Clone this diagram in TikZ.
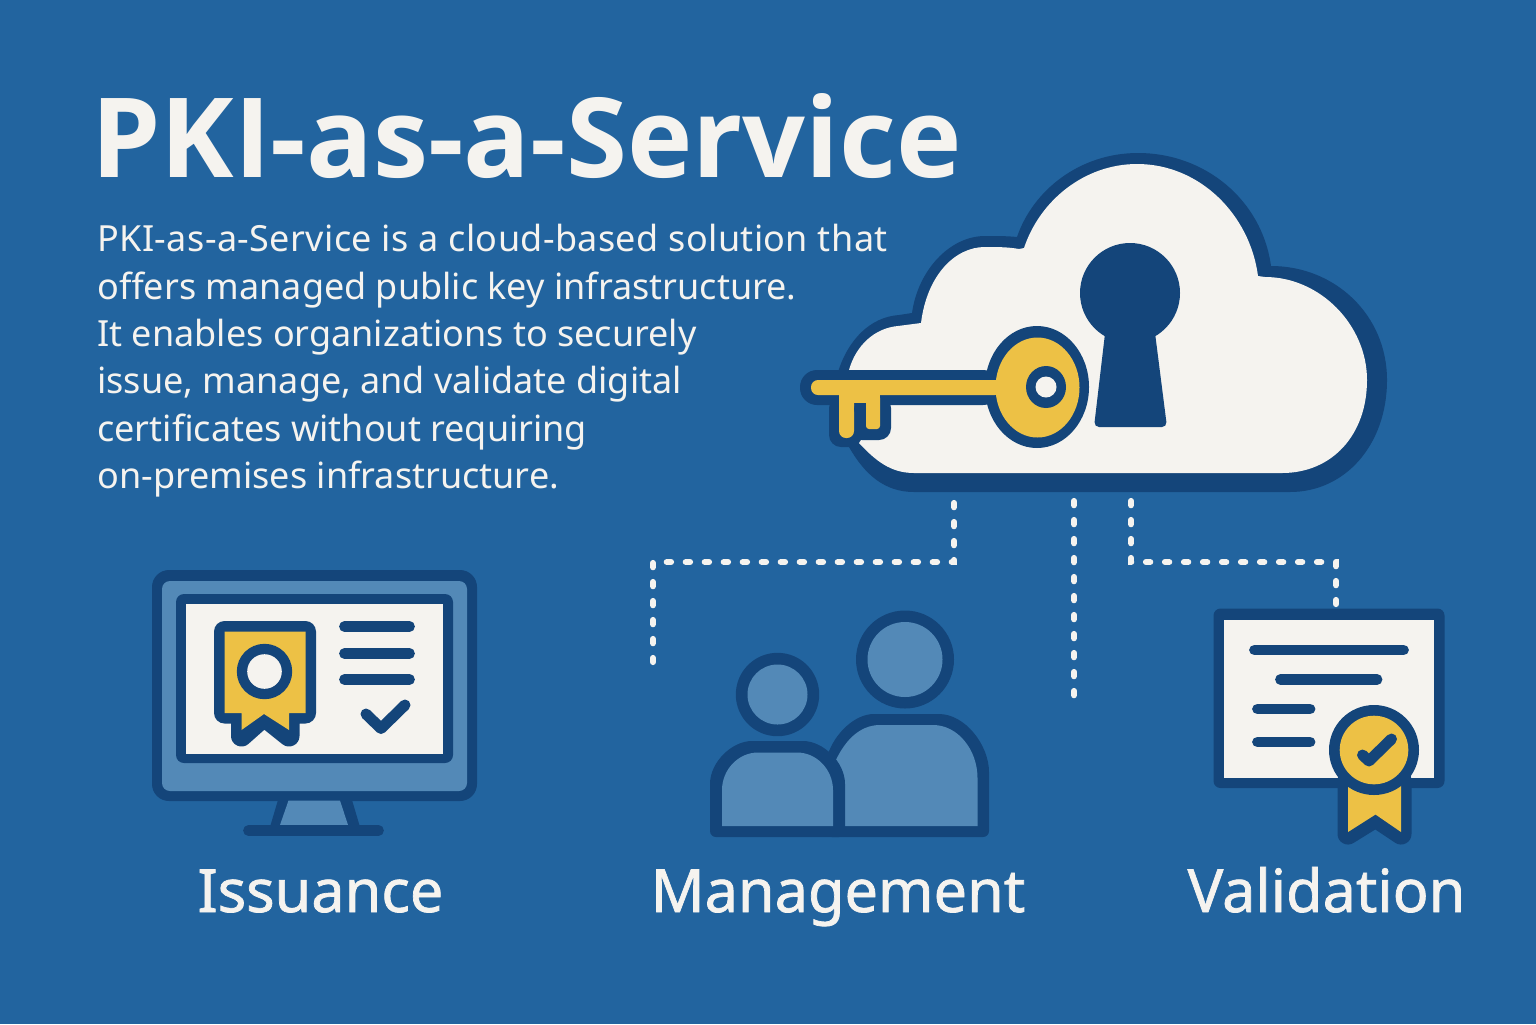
\documentclass[tikz,border=0pt]{standalone}
\usepackage{fontspec}
\setmainfont{Noto Sans}
\newfontfamily\titlefont{Open Sans}
\definecolor{bgblue}{HTML}{22649F}
\definecolor{navy}{HTML}{14457A}
\definecolor{lightblue}{HTML}{5389B7}
\definecolor{gold}{HTML}{EDC145}
\definecolor{paper}{HTML}{F5F3EF}
\tikzset{
  nv/.style={fill=navy,draw=none},
  gd/.style={fill=gold,draw=none},
  pp/.style={fill=paper,draw=none},
  lb/.style={fill=lightblue,draw=none},
  rule/.style={draw=navy,line width=5.4pt,line cap=round},
  tick/.style={draw=navy,line width=5.5pt,line cap=round,line join=round},
  halo/.style={draw=navy,fill=navy,line width=10.5pt,line join=round},
  dotline/.style={draw=paper,line width=3.1pt,line cap=round,dash pattern=on 2.1pt off 7.4pt},
  label/.style={text=paper,font=\fontsize{29.7}{36}\selectfont\addfontfeatures{FakeBold=1.2},anchor=base}
}
\begin{document}
\begin{tikzpicture}[x=0.5pt,y=-0.5pt]
\useasboundingbox (0,0) rectangle (1536,1024);
\fill[bgblue] (0,0) rectangle (1536,1024);

% title and body
\node[anchor=base west,inner sep=0pt,text=paper,font=\titlefont\bfseries\fontsize{55.3}{60}\selectfont] (title) at (91,177)
  {PKI-as-a-Service};
\node[anchor=north west,inner sep=0pt,text=paper,align=left,font=\fontsize{18}{23.7}\selectfont] (body) at (97,224)
  {{\addfontfeatures{LetterSpace=1.1}PKI-as-a-Service is a cloud-based solution that}\\
   offers managed public key infrastructure.\\
   It enables organizations to securely\\
   issue, manage, and validate digital\\
   certificates without requiring\\
   on-premises infrastructure.};

% connector anchors
\coordinate (cloudA) at (954,503);
\coordinate (cloudB) at (1074,501);
\coordinate (cloudC) at (1131,501);
\coordinate (bendA) at (954,562);
\coordinate (bendAb) at (653,562);
\coordinate (endA) at (653,662);
\coordinate (endB) at (1074,698);
\coordinate (bendC) at (1131,562);
\coordinate (bendCb) at (1336,562);
\coordinate (endC) at (1336,604);
\draw[dotline] (cloudA) -- (bendA) -- (bendAb) -- (endA);
\draw[dotline] (cloudB) -- (endB);
\draw[dotline] (cloudC) -- (bendC) -- (bendCb) -- (endC);

% cloud
\path[nv] (914,492) -- (1290,492)
  .. controls (1345,492) and (1387,445) .. (1387,380)
  .. controls (1387,315) and (1335,266) .. (1271,266)
  .. controls (1262,200) and (1205,153) .. (1138,153)
  .. controls (1080,153) and (1033,190) .. (1017,237)
  .. controls (1007,236) and (997,236) .. (985,236)
  .. controls (950,236) and (918,270) .. (912,313)
  -- (899,315)
  .. controls (870,317) and (848,340) .. (838,372)
  .. controls (834,400) and (838,425) .. (849,447)
  .. controls (865,475) and (885,492) .. (914,492) -- cycle;
\path[pp] (914,473) -- (1282,473)
  .. controls (1332,473) and (1367,435) .. (1367,380)
  .. controls (1367,325) and (1320,277) .. (1265,277)
  -- (1258,276)
  .. controls (1250,215) and (1200,164) .. (1137,164)
  .. controls (1085,164) and (1040,200) .. (1024,248)
  -- (1019,249)
  .. controls (1008,247) and (997,247) .. (985,247)
  .. controls (955,247) and (927,275) .. (921,323)
  -- (898,326)
  .. controls (875,328) and (856,345) .. (849,370)
  -- (849,400) -- (859,443)
  .. controls (875,460) and (890,473) .. (914,473) -- cycle;

% keyhole
\fill[navy] (1130,293) circle [radius=50];
\path[nv,rounded corners=2.5pt] (1106,325) -- (1094,427) -- (1167,427) -- (1154,325) -- cycle;

% key
\path[nv,rounded corners=8.5pt] (800,370) rectangle (1000,405);
\path[nv,rounded corners=6pt] (829,396) -- (829,447) -- (862,447) -- (862,396) -- cycle;
\path[nv,rounded corners=6pt] (850,396) -- (850,440) -- (891,440) -- (891,396) -- cycle;
\fill[navy] (1037,387) ellipse [x radius=52,y radius=61];
\path[gd,rounded corners=3.5pt] (811,380) rectangle (1002,395);
\path[gd] (839,390) rectangle (880,403);
\path[gd,rounded corners=3.5pt] (839,395) -- (839,438) -- (854,438) -- (854,395) -- cycle;
\path[gd,rounded corners=1.5pt] (866,395) -- (866,429) -- (880,429) -- (880,395) -- cycle;
\fill[navy] (860,409) circle [radius=6];
\fill[gold] (1037.5,387.5) ellipse [x radius=42,y radius=50];
\fill[navy] (1046,387) ellipse [x radius=20,y radius=21];
\fill[paper] (1046,387) circle [radius=10.5];

% monitor
\path[nv,rounded corners=8.5pt] (152,570) rectangle (477,801);
\path[lb,rounded corners=4pt] (162,581) rectangle (467,791);
\path[nv,rounded corners=4pt] (176,594) rectangle (453,763);
\path[pp] (186,604) rectangle (442.5,753.5);
\path[nv] (278,800) -- (352,800) -- (360,827) -- (270,827) -- cycle;
\path[lb] (288.5,800.5) -- (340,800.5) -- (348,825) -- (280,825) -- cycle;
\draw[rule] (248.5,830.5) -- (378.5,830.5);
% monitor badge
\path[halo] (224.5,631.5) -- (305.5,631.5) -- (305.5,713) -- (289,713) -- (289,736)
  -- (264,716) -- (241.5,736) -- (241.5,713) -- (224.5,713) -- cycle;
\path[gd] (224.5,631.5) -- (305.5,631.5) -- (305.5,713) -- (289,713) -- (289,730)
  -- (264,714) -- (241.5,730) -- (241.5,713) -- (224.5,713) -- cycle;
\fill[navy] (264.5,671.5) circle [radius=27.7];
\fill[paper] (264.5,671.5) circle [radius=17.3];
\draw[rule] (344.5,626.5) -- (409.5,626.5);
\draw[rule] (344.5,653.5) -- (409.5,653.5);
\draw[rule] (344.5,679.5) -- (409.5,679.5);
\draw[tick] (366,714) -- (381,728.5) -- (405,705);

% people
\fill[navy] (905,659.5) circle [radius=49];
\fill[lightblue] (905,659.5) circle [radius=37.5];
\fill[navy] (777.5,694.5) circle [radius=41.7];
\fill[lightblue] (777.5,694.5) circle [radius=30];
\path[nv,rounded corners=3pt] (826,837) -- (826,760)
  .. controls (835,733) and (855,714) .. (880,714) -- (933,714)
  .. controls (965,714) and (989,745) .. (989,778) -- (989,837) -- cycle;
\path[lb] (835,762) .. controls (845,740) and (860,725) .. (880,725) -- (933,725)
  .. controls (958,725) and (977.5,750) .. (977.5,778) -- (977.5,826) -- (845,826) -- (845,790)
  .. controls (845,780) and (841,770) .. (835,762) -- cycle;
\path[nv,rounded corners=3pt] (710,837) -- (710,790)
  .. controls (710,762) and (732,741) .. (758,741) -- (797,741)
  .. controls (823,741) and (845,762) .. (845,790) -- (845,837) -- cycle;
\path[lb] (722,826) -- (722,790)
  .. controls (722,770) and (738,752.5) .. (758,752.5) -- (797,752.5)
  .. controls (817,752.5) and (833,770) .. (833,790) -- (833,826) -- cycle;

% certificate
\path[nv,rounded corners=3.5pt] (1213.5,608.5) rectangle (1444.5,788);
\path[pp] (1224,619.5) rectangle (1433.5,777.5);
\draw[rule] (1254.5,650) -- (1403.5,650);
\draw[rule] (1280.5,679.5) -- (1377,679.5);
\draw[rule] (1257.5,709) -- (1310,709);
\draw[rule] (1257.5,742) -- (1310,742);
\path[halo] (1348,780) -- (1348,834) -- (1375.5,817) -- (1401,834) -- (1401,780) -- cycle;
\path[gd] (1348,780) -- (1348,832) -- (1375.5,814.5) -- (1401,832) -- (1401,780) -- cycle;
\fill[navy] (1374,750) circle [radius=45];
\fill[gold] (1374,750) circle [radius=34.3];
\draw[tick] (1362.5,755) -- (1369,761) -- (1391.5,739);

% labels
\node[label] (issuance) at (320.5,912) {Issuance};
\node[label] (management) at (838,912) {Management};
\node[label] (validation) at (1326.5,912) {Validation};
\end{tikzpicture}
\end{document}
